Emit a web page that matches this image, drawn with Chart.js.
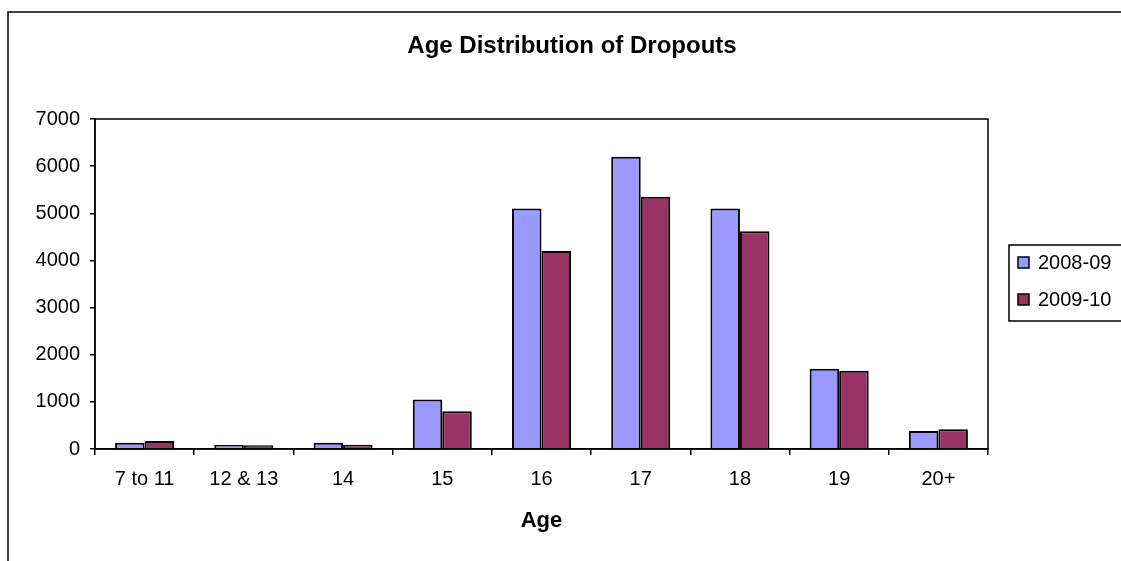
<!DOCTYPE html>
<html>
<head>
<meta charset="utf-8">
<script src="https://cdn.jsdelivr.net/npm/chart.js@4/dist/chart.umd.min.js"></script>
<style>
  html, body { margin: 0; padding: 0; background: #fff; overflow: hidden; }
  canvas { display: block; }
</style>
</head>
<body>
<canvas id="c" width="1121" height="561"></canvas>
<script>
const categories = ['7 to 11', '12 & 13', '14', '15', '16', '17', '18', '19', '20+'];
const seriesNames = ['2008-09', '2009-10'];
const values2008 = [130, 85, 130, 1050, 5100, 6200, 5100, 1700, 380];
const values2009 = [170, 80, 90, 800, 4200, 5350, 4620, 1660, 420];
const yTicks = [0, 1000, 2000, 3000, 4000, 5000, 6000, 7000];
const chartTitle = 'Age Distribution of Dropouts';
const xAxisTitle = 'Age';

const FONT = "'Liberation Sans', Arial, sans-serif";

const decorPlugin = {
  id: 'decor',
  beforeDraw(chart) {
    const ctx = chart.ctx;
    ctx.save();
    ctx.fillStyle = '#fff';
    ctx.fillRect(0, 0, chart.width, chart.height);
    // outer chart frame
    ctx.strokeStyle = '#000';
    ctx.lineWidth = 1.5;
    ctx.beginPath();
    ctx.moveTo(8, chart.height + 2);
    ctx.lineTo(8, 12);
    ctx.lineTo(chart.width + 2, 12);
    ctx.stroke();
    // title
    ctx.fillStyle = '#000';
    ctx.font = "bold 24px " + FONT;
    ctx.textAlign = 'center';
    ctx.textBaseline = 'middle';
    ctx.fillText(chartTitle, 572, 46);
    ctx.restore();
  },
  afterDraw(chart) {
    const ctx = chart.ctx;
    const a = chart.chartArea;
    ctx.save();
    ctx.strokeStyle = '#000';
    ctx.lineWidth = 1.5;
    ctx.strokeRect(a.left, a.top, a.right - a.left, a.bottom - a.top);
    // legend
    ctx.strokeRect(1009, 245, 130, 76);
    const ys = [263, 300];
    chart.data.datasets.forEach((ds, i) => {
      ctx.fillStyle = ds.backgroundColor;
      ctx.fillRect(1018, ys[i] - 6, 11, 11);
      ctx.strokeRect(1018, ys[i] - 6, 11, 11);
      ctx.fillStyle = '#000';
      ctx.font = "20px " + FONT;
      ctx.textAlign = 'left';
      ctx.textBaseline = 'middle';
      ctx.fillText(ds.label, 1038, ys[i]);
    });
    ctx.restore();
  }
};

new Chart(document.getElementById('c'), {
  type: 'bar',
  data: {
    labels: categories,
    datasets: [
      { label: seriesNames[0], data: values2008, backgroundColor: '#9999FF', borderColor: '#000', borderWidth: 2, borderSkipped: 'start' },
      { label: seriesNames[1], data: values2009, backgroundColor: '#993366', borderColor: '#000', borderWidth: 2, borderSkipped: 'start' }
    ]
  },
  options: {
    responsive: false,
    animation: false,
    devicePixelRatio: 1,
    layout: { padding: { top: 119, right: 133, left: 0, bottom: 0 } },
    plugins: { legend: { display: false }, title: { display: false }, tooltip: { enabled: false } },
    datasets: { bar: { categoryPercentage: 0.595, barPercentage: 1 } },
    scales: {
      x: {
        grid: { display: true, drawOnChartArea: false, drawTicks: true, tickLength: 6, color: '#000', lineWidth: 1.5, offset: true },
        border: { display: true, color: '#000', width: 1.5 },
        ticks: { color: '#000', font: { family: FONT, size: 20 }, padding: 12, maxRotation: 0, autoSkip: false },
        title: { display: true, text: xAxisTitle, color: '#000', font: { family: FONT, size: 22, weight: 'bold' }, padding: { top: 0, bottom: 27 } },
        afterFit(scale) { scale.height = 112; scale.paddingLeft = 0; scale.paddingRight = 0; }
      },
      y: {
        min: 0, max: 7000,
        afterBuildTicks(scale) { scale.ticks = yTicks.map(v => ({ value: v })); },
        grid: { display: true, drawOnChartArea: false, drawTicks: true, tickLength: 5, color: '#000', lineWidth: 1.5 },
        border: { display: true, color: '#000', width: 1.5 },
        ticks: { color: '#000', font: { family: FONT, size: 20 }, padding: 10, callback: (v) => String(v) },
        afterFit(scale) { scale.width = 95; }
      }
    }
  },
  plugins: [decorPlugin]
});
</script>
</body>
</html>
